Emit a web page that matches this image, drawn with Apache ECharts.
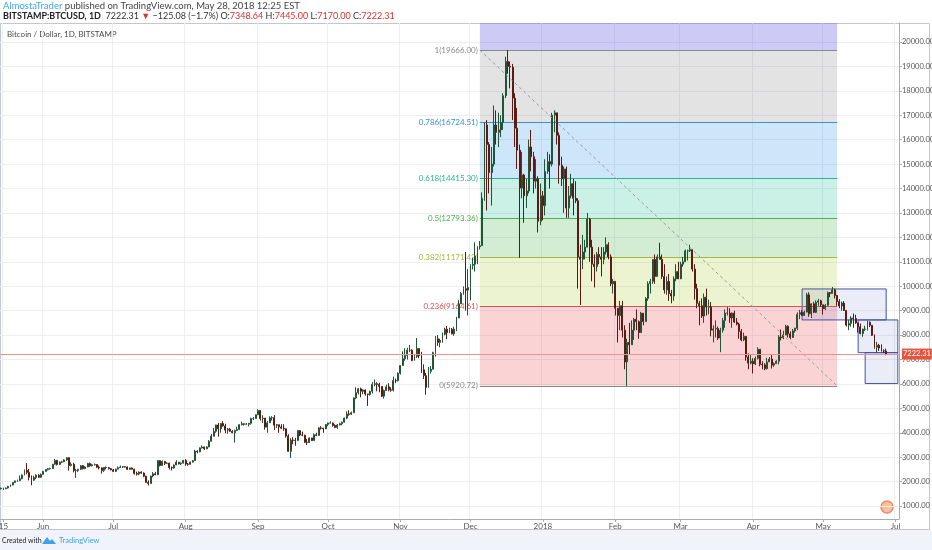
<!DOCTYPE html>
<html><head><meta charset="utf-8">
<script src="https://cdn.jsdelivr.net/npm/echarts@6/dist/echarts.min.js"></script>
<style>html,body{margin:0;padding:0;background:#fff;overflow:hidden}#c{width:932px;height:550px}</style>
</head><body><div id="c"></div>
<script>
// ---- data: daily candles [open, close, low, high] (BITSTAMP BTCUSD, 1D) ----
const startDate = '2017-05-14';
const dayCount = 385; // categories through 2018-06-02
const may17 = [[1700,1730,1680,1760],[1730,1710,1660,1750],[1710,1740,1690,1760],[1740,1800,1720,1830],[1800,1860,1780,1880],[1860,1960,1850,1980],[1960,2030,1950,2050],[2030,2040,1990,2080],[2040,2120,2020,2250],[2120,2270,2100,2290],[2270,2460,2260,2500],[2460,2380,2300,2760],[2380,2180,2050,2520],[2180,2060,1850,2250],[2060,2170,2030,2240],[2170,2260,2100,2300],[2260,2180,2150,2310],[2180,2300,2160,2330]];
const jun17 = [[2300,2420,2290,2440],[2420,2500,2400,2510],[2500,2530,2460,2560],[2530,2540,2490,2570],[2540,2710,2530,2730],[2710,2870,2700,2930],[2870,2700,2660,2890],[2700,2800,2680,2820],[2800,2810,2760,2850],[2810,2890,2800,2920],[2890,2980,2850,3000],[2980,2660,2450,2990],[2660,2710,2620,2790],[2710,2450,2380,2770],[2450,2450,2150,2520],[2450,2500,2400,2530],[2500,2650,2480,2680],[2650,2530,2500,2680],[2530,2600,2510,2630],[2600,2740,2590,2770],[2740,2650,2610,2780],[2650,2690,2620,2730],[2690,2700,2660,2740],[2700,2590,2560,2720],[2590,2560,2500,2660],[2560,2460,2330,2580],[2460,2580,2390,2600],[2580,2570,2510,2620],[2570,2530,2500,2600],[2530,2480,2460,2560]];
const jul17 = [[2480,2420,2390,2520],[2420,2510,2390,2530],[2510,2570,2500,2620],[2570,2600,2560,2660],[2600,2610,2560,2640],[2610,2600,2580,2630],[2600,2500,2480,2620],[2500,2560,2490,2570],[2560,2510,2500,2580],[2510,2330,2290,2530],[2330,2310,2250,2410],[2310,2390,2260,2420],[2390,2350,2320,2420],[2350,2220,2180,2380],[2220,1970,1960,2240],[1970,1920,1840,2050],[1920,2230,1910,2240],[2230,2320,2180,2390],[2320,2280,2270,2400],[2280,2860,2270,2880],[2860,2660,2620,2870],[2660,2830,2660,2870],[2830,2750,2680,2840],[2750,2760,2720,2790],[2760,2580,2500,2770],[2580,2560,2460,2620],[2560,2680,2530,2700],[2680,2800,2680,2880],[2800,2730,2700,2800],[2730,2760,2680,2780],[2760,2870,2740,2890]];
const aug17 = [[2870,2720,2650,2920],[2720,2710,2650,2760],[2710,2800,2690,2820],[2800,2860,2780,2880],[2860,3250,2850,3300],[3250,3220,3160,3280],[3220,3380,3200,3400],[3380,3420,3360,3480],[3420,3340,3300,3430],[3340,3420,3330,3450],[3420,3650,3410,3700],[3650,3860,3640,3950],[3860,4060,3850,4200],[4060,4320,4000,4330],[4320,4160,3840,4400],[4160,4380,4000,4400],[4380,4280,4250,4480],[4280,4110,3980,4370],[4110,4150,3960,4190],[4150,4060,4050,4190],[4060,4000,3980,4110],[4000,4090,3600,4130],[4090,4140,4070,4250],[4140,4330,4110,4350],[4330,4370,4300,4460],[4370,4350,4300,4380],[4350,4350,4320,4400],[4350,4390,4260,4400],[4390,4580,4330,4620],[4580,4580,4520,4640],[4580,4740,4570,4750]];
const sep17 = [[4740,4910,4720,4960],[4910,4580,4500,4930],[4580,4600,4400,4720],[4600,4230,4130,4600],[4230,4410,4000,4480],[4410,4610,4400,4670],[4610,4620,4500,4680],[4620,4310,4120,4730],[4310,4330,4200,4360],[4330,4240,4000,4330],[4240,4190,4150,4350],[4190,4160,4080,4350],[4160,3870,3800,4170],[3870,3240,3220,3940],[3240,3700,2970,3780],[3700,3690,3530,3820],[3690,3680,3470,3790],[3680,4090,3670,4110],[4090,3910,3860,4110],[3910,3900,3860,4050],[3900,3610,3580,3920],[3610,3600,3500,3750],[3600,3790,3580,3810],[3790,3680,3660,3790],[3680,3920,3670,3970],[3920,3890,3860,4000],[3890,4200,3880,4230],[4200,4190,4130,4270],[4190,4160,4000,4200],[4160,4340,4160,4360]];
const oct17 = [[4340,4400,4270,4410],[4400,4400,4380,4470],[4400,4300,4250,4420],[4300,4220,4190,4350],[4220,4320,4160,4360],[4320,4370,4300,4410],[4370,4430,4310,4460],[4430,4600,4420,4620],[4600,4770,4560,4880],[4770,4760,4700,4920],[4760,4820,4730,4870],[4820,5430,4810,5440],[5430,5640,5380,5860],[5640,5800,5570,5830],[5800,5700,5450,5850],[5700,5750,5580,5780],[5750,5590,5520,5770],[5590,5570,5100,5600],[5570,5700,5520,5720],[5700,5980,5610,6070],[5980,6010,5900,6180],[6010,5980,5700,6070],[5980,5900,5660,6050],[5900,5500,5460,5900],[5500,5730,5400,5770],[5730,5880,5720,5970],[5880,5760,5700,6030],[5760,5740,5680,5860],[5740,6140,5690,6300],[6140,6130,6030,6220],[6130,6440,6100,6470]];
const nov17 = [[6440,6750,6380,6770],[6750,7030,6750,7330],[7030,7160,6950,7460],[7160,7380,7000,7480],[7380,7380,7300,7600],[7380,6960,6930,7420],[6960,7120,6960,7220],[7120,7450,7060,7880],[7450,7150,7050,7450],[7150,6580,6450,7310],[6580,6340,6200,6800],[6340,5860,5560,6450],[5860,6520,5850,6700],[6520,6600,6420,6730],[6600,7280,6600,7320],[7280,7850,7120,7960],[7850,7700,7560,8000],[7700,7780,7500,7850],[7780,8030,7690,8100],[8030,8240,7990,8300],[8240,8100,7830,8370],[8100,8240,8080,8300],[8240,8050,8030,8290],[8050,8240,7970,8340],[8240,8700,8160,8750],[8700,9280,8700,9440],[9280,9700,9300,9760],[9700,9900,9650,9990],[9900,9840,9000,11400],[9840,9950,8800,10700]];
const dec17 = [[9950,10850,9420,10900],[10850,10900,10690,11170],[10900,11240,10600,11800],[11240,11620,10900,11650],[11620,11660,11500,11850],[11660,13600,11660,13840],[13600,16600,13500,16700],[16600,15800,13100,16800],[15800,14650,13800,15900],[14650,15000,13300,15700],[15000,16600,14900,17400],[16600,16300,15800,17200],[16300,16400,15700,17100],[16400,16700,16100,17000],[16700,17800,16400,17900],[17800,19200,17700,19400],[19200,19000,18700,19666],[19000,18970,18100,19200],[18970,17700,16800,19100],[17700,16470,15700,17900],[16470,15570,14800,17300],[15570,14020,11160,15800],[14020,14550,13600,15500],[14550,13700,12600,14600],[13700,13900,13200,14400],[13900,15700,13800,16000],[15700,15300,14700,16400],[15300,14300,13800,15500],[14300,14400,14000,15200],[14400,12660,12200,14500],[12660,13700,12500,14200]];
const jan18 = [[13700,13300,12700,13900],[13300,14700,12900,15200],[14700,15100,14600,15500],[15100,15000,14000,15400],[15000,17000,14900,17100],[17000,17100,16300,17200],[17100,16180,15800,17100],[16180,14950,14200,16300],[14950,14400,14100,15300],[14400,14800,13000,14900],[14800,13200,12800,14900],[13200,13700,12800,14100],[13700,14200,13600,14600],[14200,13600,12900,14400],[13600,13500,13400,14300],[13500,11200,9900,13600],[11200,11100,9230,11700],[11100,11400,10700,12100],[11400,11600,11100,11900],[11600,12750,11600,13000],[12750,11600,11000,12800],[11600,10900,10200,11900],[10900,10800,9950,11300],[10800,11300,10600,11400],[11300,11200,10900,11600],[11200,11100,10400,11600],[11100,11400,10900,11600],[11400,11700,11300,12000],[11700,11200,11100,11800],[11200,10100,10000,11300],[10100,10200,9700,10300]];
const feb18 = [[10200,9100,8800,10200],[9100,8800,7700,9100],[8800,9200,8200,9400],[9200,8200,7900,9400],[8200,6900,6600,8400],[6900,7700,5920.72,7850],[7700,7600,7200,8500],[7600,8200,7600,8600],[8200,8650,7800,8700],[8650,8550,8200,9050],[8550,8100,7850,8600],[8100,8900,8100,8950],[8900,8550,8400,8900],[8550,9500,8550,9550],[9500,10100,9400,10200],[10100,10200,9700,10300],[10200,11100,10100,11100],[11100,10400,10100,11300],[10400,11200,10400,11300],[11200,11100,11100,11780],[11100,10400,10300,11300],[10400,9850,9700,10900],[9850,10200,9650,10400],[10200,9700,9400,10500],[9700,9600,9300,9850],[9600,10300,9400,10400],[10300,10600,10200,10900],[10600,10300,10300,11000]];
const mar18 = [[10300,10900,10300,11000],[10900,11000,10800,11200],[11000,11450,11000,11500],[11450,11450,11050,11500],[11450,11500,11400,11700],[11500,10700,10600,11500],[10700,9900,9450,10900],[9900,9300,9100,10100],[9300,9200,8400,9400],[9200,8780,8700,9500],[8780,9550,8500,9700],[9550,9150,8800,9900],[9150,9150,8850,9450],[9150,8200,7950,9350],[8200,8250,7700,8400],[8250,8270,7900,8600],[8270,7880,7800,8350],[7880,8200,7300,8300],[8200,8600,8100,8700],[8600,8900,8300,9050],[8900,8900,8800,9150],[8900,8700,8500,9100],[8700,8900,8300,8920],[8900,8530,8500,9000],[8530,8450,8400,8700],[8450,8150,7850,8500],[8150,7800,7750,8250],[7800,7950,7750,8100],[7950,7100,6950,7950],[7100,6850,6600,7250],[6850,6930,6800,7200]];
const apr18 = [[6930,6820,6430,7050],[6820,7050,6770,7120],[7050,7420,7000,7500],[7420,6800,6720,7420],[6800,6780,6600,6930],[6780,6620,6560,6850],[6620,6900,6600,7070],[6900,7020,6900,7100],[7020,6770,6630,7180],[6770,6830,6700,6880],[6830,6930,6820,6970],[6930,7920,6800,8000],[7920,7890,7780,8230],[7890,8000,7830,8180],[8000,8360,8000,8420],[8360,8050,7900,8400],[8050,7900,7830,8150],[7900,8170,7880,8250],[8170,8280,8100,8300],[8280,8850,8200,8930],[8850,8920,8650,9030],[8920,8800,8780,9020],[8800,8940,8790,9000],[8940,9650,8930,9730],[9650,8870,8750,9750],[8870,9280,8700,9300],[9280,8930,8900,9360],[8930,9350,8900,9420],[9350,9400,9200,9480],[9400,9240,9150,9450]];
const may18 = [[9240,9080,8840,9240],[9080,9220,9020,9270],[9220,9740,9180,9780],[9740,9700,9550,9760],[9700,9850,9700,9970],[9850,9620,9500,9900],[9620,9370,9200,9650],[9370,9190,9100,9470],[9190,9310,9000,9370],[9310,9010,8990,9390],[9010,8410,8350,9010],[8410,8480,8200,8630],[8480,8700,8350,8770],[8700,8680,8300,8880],[8680,8500,8460,8830],[8500,8340,8100,8500],[8340,8060,8030,8470],[8060,8240,7930,8260],[8240,8240,8170,8380],[8240,8520,8190,8580],[8520,8400,8330,8560],[8400,7990,7960,8410],[7990,7500,7440,8030],[7500,7580,7280,7720],[7580,7470,7350,7640],[7470,7350,7320,7620],[7350,7347.39,7260,7420],[7348.64,7222.31,7170,7445]];

// tick labels
const yTicks = [1000,2000,3000,4000,5000,6000,7000,8000,9000,10000,11000,12000,13000,14000,15000,16000,17000,18000,19000,20000];
const xTickDates = ['2017-05-15','2017-06-01','2017-07-01','2017-08-01','2017-09-01','2017-10-01','2017-11-01','2017-12-01','2018-01-01','2018-02-01','2018-03-01','2018-04-01','2018-05-01','2018-06-01'];
const xTickLabels = ['15','Jun','Jul','Aug','Sep','Oct','Nov','Dec','2018','Feb','Mar','Apr','May','Jul'];

// fibonacci retracement drawing
const fibHigh = 19666.00, fibLow = 5920.72;
const fibRatios = [1, 0.786, 0.618, 0.5, 0.382, 0.236, 0];
const fibStart = '2017-12-05', fibEnd = '2018-05-07';
// rectangles drawn on chart [xStart, yTop, xEnd, yBottom]
const boxes = [['2018-04-22', 9888, '2018-05-28', 8620], ['2018-05-16', 8620, '2018-06-02', 7280], ['2018-05-19', 7280, '2018-06-02', 6015]];
// header quote
const quote = { last: 7222.31, change: -125.08, pct: -1.7, o: 7348.64, h: 7445.00, l: 7170.00, c: 7222.31 };
const yMin = 470, yMax = 20776;

// ---- build ----
const ohlc = [].concat(may17, jun17, jul17, aug17, sep17, oct17, nov17, dec17, jan18, feb18, mar18, apr18, may18);
const dates = [];
const t0 = Date.UTC(2017, 4, 14);
for (let i = 0; i < dayCount; i++) {
  const d = new Date(t0 + i * 86400000);
  dates.push(d.getUTCFullYear() + '-' + String(d.getUTCMonth() + 1).padStart(2, '0') + '-' + String(d.getUTCDate()).padStart(2, '0'));
}
const tickMap = {};
xTickDates.forEach((d, i) => tickMap[d] = xTickLabels[i]);
const isTick = (idx, val) => tickMap[dates[idx]] !== undefined;

const fibStyle = {
  1: { line: '#8a8a8a', text: '#8a8a8a', fill: 'rgba(128,128,128,0.22)' },
  0.786: { line: '#3b8fd3', text: '#3b8fd3', fill: 'rgba(33,140,230,0.22)' },
  0.618: { line: '#2bb390', text: '#2bb390', fill: 'rgba(20,185,140,0.22)' },
  0.5: { line: '#4caf50', text: '#4caf50', fill: 'rgba(76,185,80,0.25)' },
  0.382: { line: '#a9b73a', text: '#a9b73a', fill: 'rgba(170,200,40,0.22)' },
  0.236: { line: '#e05050', text: '#e05050', fill: 'rgba(230,60,60,0.22)' },
  0: { line: '#8a8a8a', text: '#8a8a8a', fill: null }
};
const lvl = r => fibLow + r * (fibHigh - fibLow);
const fibAreas = [[{ coord: [fibStart, fibHigh], itemStyle: { color: 'rgba(100,90,225,0.32)' } }, { coord: [fibEnd, yMax] }]];
for (let i = 0; i < fibRatios.length - 1; i++) {
  fibAreas.push([{ coord: [fibStart, lvl(fibRatios[i + 1])], itemStyle: { color: fibStyle[fibRatios[i]].fill } }, { coord: [fibEnd, lvl(fibRatios[i])] }]);
}
const fibLines = fibRatios.map(r => [
  { coord: [fibStart, lvl(r)], lineStyle: { color: fibStyle[r].line, width: 1, type: 'solid' },
    label: { show: true, position: 'start', distance: 2, formatter: r + '(' + lvl(r).toFixed(2) + ')', color: fibStyle[r].text, fontSize: 8, fontFamily: 'Lato' } },
  { coord: [fibEnd, lvl(r)] }
]);

const chart = echarts.init(document.getElementById('c'));
const font = 'Lato';
chart.setOption({
  animation: false,
  backgroundColor: '#ffffff',
  grid: { left: 0, right: 33, top: 23, bottom: 31, containLabel: false, outerBoundsMode: 'none' },
  xAxis: {
    type: 'category', data: dates, boundaryGap: true,
    axisLine: { lineStyle: { color: '#a9acb3' } },
    axisTick: { show: true, interval: isTick, alignWithLabel: true, length: 3, lineStyle: { color: '#a9acb3' } },
    axisLabel: { interval: isTick, formatter: v => tickMap[v] || '', fontSize: 8, color: '#555', margin: 3, fontFamily: font, hideOverlap: false },
    splitLine: { show: true, interval: isTick, lineStyle: { color: '#eceef2', width: 1 } }
  },
  yAxis: {
    type: 'value', position: 'right', min: yMin, max: yMax, scale: true,
    axisLine: { show: true, lineStyle: { color: '#a9acb3' } },
    axisTick: { show: true, customValues: yTicks, length: 3, lineStyle: { color: '#a9acb3' } },
    axisLabel: { customValues: yTicks, formatter: v => Number(v).toFixed(2), fontSize: 7.5, color: '#555', margin: 3, fontFamily: font },
    splitLine: { show: false }
  },
  series: [
    { type: 'line', data: [], silent: true,
      markLine: { z: 0, silent: true, symbol: 'none', animation: false, label: { show: false },
        lineStyle: { color: '#eceef2', width: 1, type: 'solid' },
        data: yTicks.map(v => ({ yAxis: v })) } },
    { type: 'line', data: [], silent: true,
      markArea: { z: 1, silent: true, animation: false, data: fibAreas } },
    { type: 'line', data: [], silent: true,
      markArea: { z: 2, silent: true, animation: false,
        itemStyle: { color: 'rgba(80,100,190,0.12)', borderColor: '#4352a3', borderWidth: 1 },
        data: boxes.map(b => [{ coord: [b[0], b[1]] }, { coord: [b[2], b[3]] }]) } },
    { type: 'line', data: [], silent: true,
      markLine: { z: 2, silent: true, symbol: 'none', animation: false, data: fibLines } },
    { type: 'candlestick', name: 'BTCUSD', data: ohlc, z: 3, barWidth: '62%',
      itemStyle: { color: '#6ba583', color0: '#d75442', borderColor: '#225437', borderColor0: '#5b1a13', borderWidth: 1 } },
    { type: 'line', data: [], silent: true,
      markLine: { z: 5, silent: true, symbol: 'none', animation: false,
        data: [
          [{ coord: [fibStart, fibHigh], lineStyle: { color: '#9a9a9a', type: [3, 3], width: 1 }, label: { show: false } }, { coord: [fibEnd, fibLow] }],
          { yAxis: quote.last, lineStyle: { color: '#f09090', type: 'solid', width: 1 },
            label: { show: true, position: 'end', distance: 3, formatter: quote.last.toFixed(2), color: '#fff', backgroundColor: '#e4553f', padding: [2, 1, 1, 1], fontSize: 7.5, fontFamily: font } }
        ] } }
  ],
  graphic: [
    { type: 'rect', shape: { x: 0, y: 530, width: 932, height: 20 }, style: { fill: '#f0f3f9' }, silent: true, z: -10 },
    { type: 'rect', shape: { x: 0.5, y: 23.5, width: 929, height: 506 }, style: { fill: 'none', stroke: '#c3c6cc', lineWidth: 1 }, silent: true },
    { type: 'text', x: 3, y: 6, style: { text: '{a|AlmostaTrader}{b| published on TradingView.com, May 28, 2018 12:25 EST}', verticalAlign: 'middle',
        rich: { a: { fill: '#3ea3e6', fontSize: 9.5, fontFamily: font }, b: { fill: '#444', fontSize: 9.5, fontFamily: font } } } },
    { type: 'text', x: 3, y: 16.5, style: {
        text: '{k|BITSTAMP:BTCUSD, 1D}{n|  ' + quote.last.toFixed(2) + ' }{r|▼}{n| −' + Math.abs(quote.change).toFixed(2) + ' (−' + Math.abs(quote.pct) + '%) }{n|O:}{r|' + quote.o.toFixed(2) + '}{n| H:}{r|' + quote.h.toFixed(2) + '}{n| L:}{r|' + quote.l.toFixed(2) + '}{n| C:}{r|' + quote.c.toFixed(2) + '}',
        verticalAlign: 'middle',
        rich: { k: { fill: '#222', fontSize: 9, fontWeight: 'bold', fontFamily: font }, n: { fill: '#333', fontSize: 9, fontFamily: font }, r: { fill: '#d8322d', fontSize: 9, fontFamily: font } } } },
    { type: 'text', x: 7, y: 34, style: { text: 'Bitcoin / Dollar, 1D, BITSTAMP', fill: '#4a4a4a', fontSize: 8, fontFamily: font, verticalAlign: 'middle' } },
    { type: 'circle', shape: { cx: 887, cy: 507, r: 6 }, style: { fill: '#f7c2a4', stroke: '#f08a5d', lineWidth: 1.5 }, silent: true },
    { type: 'text', x: 2, y: 541, style: { text: 'Created with', fill: '#222', fontSize: 7, fontFamily: font, verticalAlign: 'middle' } },
    { type: 'polygon', shape: { points: [[42, 544], [47, 537], [50, 541], [52, 539], [56, 544]] }, style: { fill: '#3ea3e6' }, silent: true },
    { type: 'text', x: 59, y: 541, style: { text: 'TradingView', fill: '#3ea3e6', fontSize: 7.5, fontFamily: font, verticalAlign: 'middle' } }
  ]
});
</script></body></html>
